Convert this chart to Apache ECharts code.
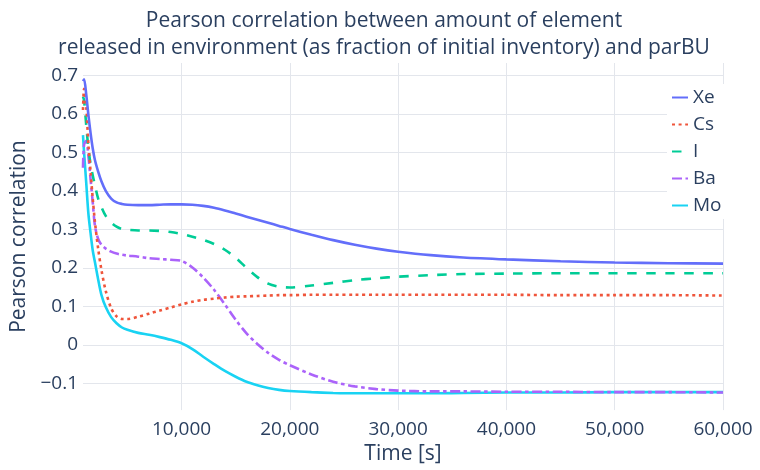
<!DOCTYPE html>
<html><head><meta charset="utf-8">
<script src="https://cdn.jsdelivr.net/npm/echarts@6/dist/echarts.min.js"></script>
<style>html,body{margin:0;padding:0;background:#fff}#c{width:760px;height:470px}</style>
</head><body><div id="c"></div>
<script>
// Time [s]
const times = [900, 1000, 1200, 1400, 1600, 1800, 2000, 2300, 2600, 3000, 3500, 4000, 4500, 5000,
  6000, 7000, 8000, 9000, 10000, 11000, 12000, 13000, 14000, 15000, 16000, 17000, 18000, 19000, 20000,
  22000, 24000, 26000, 28000, 30000, 33000, 36000, 40000, 45000, 50000, 55000, 60000];
const xe = [0.685, 0.69, 0.65, 0.597, 0.55, 0.51, 0.48, 0.45, 0.425, 0.40, 0.38, 0.37, 0.366, 0.364,
  0.363, 0.363, 0.364, 0.365, 0.365, 0.364, 0.361, 0.356, 0.349, 0.341, 0.333, 0.325, 0.317, 0.309, 0.301,
  0.286, 0.272, 0.26, 0.25, 0.242, 0.233, 0.227, 0.222, 0.217, 0.214, 0.212, 0.211];
const cs = [0.61, 0.665, 0.62, 0.52, 0.45, 0.38, 0.32, 0.25, 0.195, 0.14, 0.095, 0.074, 0.067, 0.067,
  0.073, 0.081, 0.089, 0.097, 0.105, 0.112, 0.117, 0.12, 0.123, 0.125, 0.126, 0.127, 0.128, 0.129, 0.129,
  0.13, 0.13, 0.13, 0.13, 0.13, 0.13, 0.13, 0.13, 0.129, 0.129, 0.129, 0.128];
const iod = [0.645, 0.635, 0.57, 0.51, 0.47, 0.44, 0.415, 0.38, 0.358, 0.335, 0.318, 0.307, 0.301, 0.299,
  0.297, 0.297, 0.296, 0.293, 0.288, 0.281, 0.273, 0.262, 0.247, 0.226, 0.2, 0.176, 0.159, 0.151, 0.149,
  0.154, 0.161, 0.168, 0.173, 0.177, 0.181, 0.184, 0.185, 0.186, 0.186, 0.186, 0.186];
const ba = [0.46, 0.52, 0.53, 0.49, 0.43, 0.37, 0.31, 0.275, 0.26, 0.25, 0.242, 0.237, 0.234, 0.232,
  0.229, 0.225, 0.223, 0.221, 0.218, 0.201, 0.175, 0.143, 0.105, 0.065, 0.03, 0.002, -0.021, -0.039, -0.053,
  -0.077, -0.096, -0.108, -0.115, -0.119, -0.121, -0.121, -0.122, -0.122, -0.123, -0.123, -0.124];
const mo = [0.545, 0.5, 0.42, 0.34, 0.29, 0.245, 0.215, 0.17, 0.13, 0.098, 0.072, 0.056, 0.045, 0.039,
  0.031, 0.026, 0.02, 0.013, 0.004, -0.011, -0.031, -0.05, -0.068, -0.083, -0.096, -0.105, -0.112, -0.117, -0.12,
  -0.123, -0.125, -0.126, -0.126, -0.126, -0.126, -0.125, -0.124, -0.124, -0.123, -0.123, -0.123];

const seriesNames = ['Xe', 'Cs', 'I', 'Ba', 'Mo'];
const seriesValues = [xe, cs, iod, ba, mo];
const seriesColors = ['#636EFA', '#EF553B', '#00CC96', '#AB63FA', '#19D3F3'];
const seriesDash = ['solid', [3, 3.6], [9.5, 9.5], [10, 3.5, 3.5, 3.5], 'solid'];

const yTickLabels = ['−0.1', '0', '0.1', '0.2', '0.3', '0.4', '0.5', '0.6', '0.7'];
const xTickLabels = ['10,000', '20,000', '30,000', '40,000', '50,000', '60,000'];

const titleText = 'Pearson correlation between amount of element\nreleased in environment (as fraction of initial inventory) and parBU';
const FONT = '"Open Sans", "Noto Sans", sans-serif';
const TXT = '#2a3f5f';
const GRID = '#E3E6EC';

const chart = echarts.init(document.getElementById('c'), null, {renderer: 'canvas'});
chart.setOption({
  animation: false,
  backgroundColor: '#fff',
  textStyle: {fontFamily: FONT},
  title: {
    text: titleText, left: 379, top: 3, textAlign: 'center',
    textStyle: {fontFamily: FONT, fontSize: 21, fontWeight: 'normal', color: TXT, lineHeight: 27, align: 'center'}
  },
  legend: {
    data: seriesNames, orient: 'vertical', left: 667, top: 84,
    itemWidth: 16, itemHeight: 14, itemGap: 8,
    padding: [4, 4, 4, 4], backgroundColor: '#fff',
    itemStyle: {opacity: 0},
    textStyle: {fontFamily: FONT, fontSize: 19, color: TXT}
  },
  grid: {left: 83, right: 37, top: 63, bottom: 57, containLabel: false},
  xAxis: {
    type: 'value', min: 900, max: 60000, splitNumber: 6,
    axisLine: {show: false}, axisTick: {show: false},
    axisLabel: {
      fontFamily: FONT, fontSize: 19, color: TXT, margin: 10,
      showMinLabel: false,
      formatter: v => { const s = Math.round(v).toLocaleString('en-US'); return xTickLabels.includes(s) ? s : ''; }
    },
    splitLine: {show: true, showMinLine: false, lineStyle: {color: GRID, width: 1}},
    name: 'Time [s]', nameLocation: 'middle', nameGap: 32,
    nameTextStyle: {fontFamily: FONT, fontSize: 21, color: TXT}
  },
  yAxis: {
    type: 'value', min: -0.1696, max: 0.7322, splitNumber: 9,
    axisLine: {show: false}, axisTick: {show: false},
    axisLabel: {
      fontFamily: FONT, fontSize: 19, color: TXT, margin: 5,
      showMinLabel: false, showMaxLabel: false,
      formatter: v => { const r = Math.round(v * 10) / 10; const s = r < 0 ? '−' + Math.abs(r) : String(r); return yTickLabels.includes(s) ? s : ''; }
    },
    splitLine: {show: true, showMinLine: false, showMaxLine: false, lineStyle: {color: GRID, width: 1}},
    name: 'Pearson correlation', nameLocation: 'middle', nameGap: 48,
    nameTextStyle: {fontFamily: FONT, fontSize: 21, color: TXT}
  },
  series: seriesNames.map((n, i) => ({
    name: n, type: 'line',
    data: times.map((t, k) => [t, seriesValues[i][k]]),
    showSymbol: false, symbol: 'none',
    smooth: 0.3,
    color: seriesColors[i],
    lineStyle: {color: seriesColors[i], width: 2.6, type: seriesDash[i]},
    z: 5 - i
  }))
});
</script></body></html>
